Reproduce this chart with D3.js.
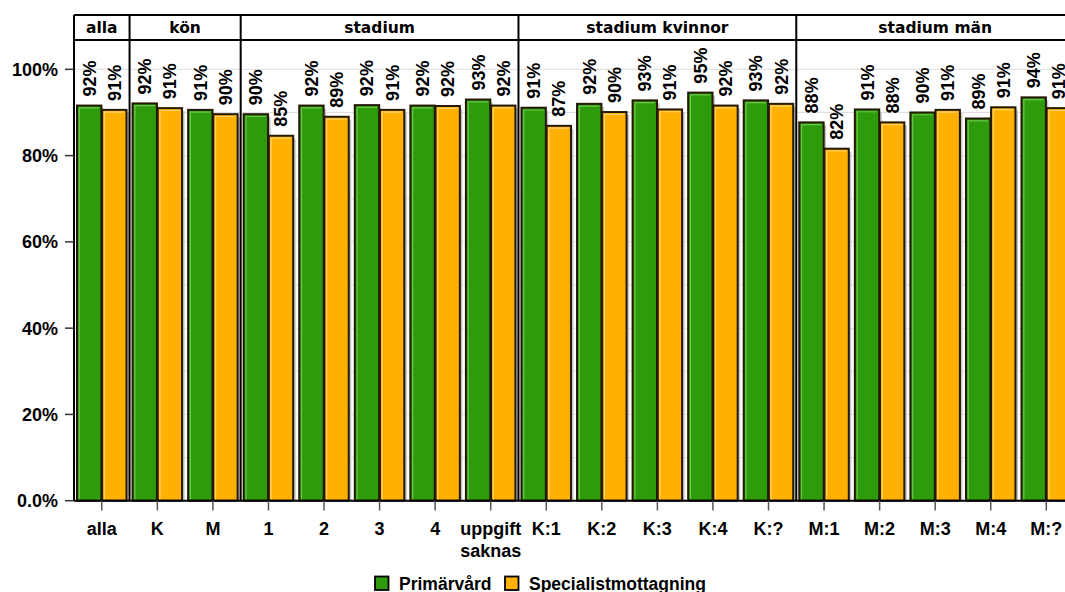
<!DOCTYPE html>
<html>
<head>
<meta charset="utf-8">
<script src="https://cdn.jsdelivr.net/npm/d3@7"></script>
<style>
  html, body { margin: 0; padding: 0; background: #fff; }
  svg { display: block; }
</style>
</head>
<body>
<svg id="chart" width="1065" height="592"></svg>
<script>
// ---------------- data ----------------
const categories = ["alla", "K", "M", "1", "2", "3", "4", "uppgift saknas",
  "K:1", "K:2", "K:3", "K:4", "K:?", "M:1", "M:2", "M:3", "M:4", "M:?"];
const panelNames = ["alla", "kön", "stadium", "stadium kvinnor", "stadium män"];
const panelSizes = [1, 2, 5, 5, 5];
const seriesNames = ["Primärvård", "Specialistmottagning"];
const primarvard = [91.6, 92.1, 90.6, 89.6, 91.6, 91.7, 91.6, 93.0,
  91.1, 92.0, 92.8, 94.6, 92.8, 87.7, 90.7, 90.0, 88.6, 93.5];
const specialist = [90.6, 91.0, 89.6, 84.6, 89.0, 90.6, 91.5, 91.6,
  86.9, 90.1, 90.7, 91.6, 92.0, 81.6, 87.7, 90.6, 91.2, 91.0];
const yTicks = [0, 20, 40, 60, 80, 100];
const yTickLabels = ["0.0%", "20%", "40%", "60%", "80%", "100%"];
const gridTicks = [10, 20, 30, 40, 50, 60, 70, 80, 90, 100];
const seriesColors = ["#2e9b0c", "#ffb000"];
const highlightColors = ["#6cc64a", "#ffd36a"];

// ---------------- layout ----------------
const svg = d3.select("#chart");
const left = 74, bandW = 55.56;
const stripTop = 15, stripBottom = 40, baseY = 500.7;
const FONT = "Arial, 'Liberation Sans', sans-serif";

const x = d3.scaleBand().domain(categories)
  .range([left, left + bandW * categories.length]).padding(0);
const xs = d3.scaleBand().domain(seriesNames).range([3, 52.5]).paddingInner(0.03);
const y = d3.scaleLinear().domain([0, 106.8]).range([baseY, stripBottom]);

const data = categories.map((c, i) => ({
  cat: c,
  vals: [primarvard[i], specialist[i]]
}));

// grid
svg.append("g").selectAll("line").data(gridTicks).join("line")
  .attr("x1", left).attr("x2", 1065)
  .attr("y1", d => y(d)).attr("y2", d => y(d))
  .attr("stroke", "#dedede").attr("stroke-width", 1);

// bars
const groups = svg.append("g").selectAll("g").data(data).join("g")
  .attr("transform", d => `translate(${x(d.cat)},0)`);

const barData = d => d.vals.map((v, j) => ({ v, j, s: seriesNames[j] }));

// shadows
groups.selectAll("rect.shadow").data(barData).join("rect")
  .attr("class", "shadow")
  .attr("x", d => xs(d.s) + 2.5)
  .attr("y", d => y(d.v) + 3)
  .attr("width", xs.bandwidth())
  .attr("height", d => baseY - y(d.v) - 3)
  .attr("fill", "#c4c4c4");

groups.selectAll("rect.bar").data(barData).join("rect")
  .attr("class", "bar")
  .attr("x", d => xs(d.s))
  .attr("y", d => y(d.v))
  .attr("width", xs.bandwidth())
  .attr("height", d => baseY - y(d.v))
  .attr("fill", d => seriesColors[d.j])
  .attr("stroke", "#241800").attr("stroke-width", 2);

// highlight lines
groups.selectAll("path.hl").data(barData).join("path")
  .attr("class", "hl")
  .attr("d", d => {
    const x0 = xs(d.s) + 2.3, x1 = xs(d.s) + xs.bandwidth() - 2.3;
    const y0 = y(d.v) + 2.3;
    return `M${x0},${baseY - 1.5}V${y0}H${x1}`;
  })
  .attr("fill", "none")
  .attr("stroke", d => highlightColors[d.j]).attr("stroke-width", 1.2);

// value labels
groups.selectAll("text.val").data(barData).join("text")
  .attr("class", "val")
  .attr("transform", d => `translate(${xs(d.s) + xs.bandwidth() / 2},${y(d.v) - 9}) rotate(-90)`)
  .attr("text-anchor", "start")
  .attr("dy", "0.36em")
  .attr("font-family", FONT)
  .attr("font-weight", "bold")
  .attr("font-size", 18)
  .attr("fill", "#000")
  .text(d => Math.round(d.v) + "%");

// panel borders
let starts = [], acc = 0;
panelSizes.forEach(n => { starts.push(acc); acc += n; });
const boundaries = starts.map(s => x(categories[s]));

const frame = svg.append("g");
frame.append("line").attr("x1", left).attr("x2", 1065)
  .attr("y1", stripTop).attr("y2", stripTop).attr("stroke", "#000").attr("stroke-width", 2);
frame.append("line").attr("x1", left).attr("x2", 1065)
  .attr("y1", stripBottom).attr("y2", stripBottom).attr("stroke", "#000").attr("stroke-width", 2);
frame.append("line").attr("x1", left).attr("x2", 1065)
  .attr("y1", baseY).attr("y2", baseY).attr("stroke", "#000").attr("stroke-width", 2);
frame.selectAll("line.sep").data(boundaries).join("line")
  .attr("class", "sep")
  .attr("x1", d => d).attr("x2", d => d)
  .attr("y1", stripTop).attr("y2", baseY)
  .attr("stroke", "#000").attr("stroke-width", 2);

// strip labels
frame.selectAll("text.strip").data(panelNames).join("text")
  .attr("class", "strip")
  .attr("x", (d, i) => x(categories[starts[i]]) + panelSizes[i] * bandW / 2)
  .attr("y", 33)
  .attr("text-anchor", "middle")
  .attr("font-family", "'DejaVu Sans', Verdana, sans-serif")
  .attr("font-weight", "bold")
  .attr("font-size", 15.5)
  .text(d => d);

// y axis
const yAxis = svg.append("g");
yAxis.selectAll("line").data(yTicks).join("line")
  .attr("x1", 65).attr("x2", left)
  .attr("y1", d => y(d)).attr("y2", d => y(d))
  .attr("stroke", "#333").attr("stroke-width", 1.5);
yAxis.selectAll("text").data(yTicks).join("text")
  .attr("x", 58).attr("y", d => y(d))
  .attr("dy", "0.36em")
  .attr("text-anchor", "end")
  .attr("font-family", FONT)
  .attr("font-weight", "bold")
  .attr("font-size", 18)
  .text((d, i) => yTickLabels[i]);

// x axis
const xAxis = svg.append("g");
xAxis.selectAll("line").data(categories).join("line")
  .attr("x1", d => x(d) + bandW / 2).attr("x2", d => x(d) + bandW / 2)
  .attr("y1", baseY).attr("y2", 510.5)
  .attr("stroke", "#555").attr("stroke-width", 1.5);
const xt = xAxis.selectAll("text").data(categories).join("text")
  .attr("x", d => x(d) + bandW / 2)
  .attr("y", 535)
  .attr("text-anchor", "middle")
  .attr("font-family", FONT)
  .attr("font-weight", "bold")
  .attr("font-size", 18);
xt.selectAll("tspan").data(d => d.split(" ").map(w => ({ w, c: d }))).join("tspan")
  .attr("x", d => x(d.c) + bandW / 2)
  .attr("dy", (d, i) => i === 0 ? 0 : 22)
  .text(d => d.w);

// legend
const legendX = [375, 505];
const lg = svg.append("g").selectAll("g").data(seriesNames).join("g")
  .attr("transform", (d, i) => `translate(${legendX[i]},0)`);
lg.append("rect").attr("x", 0).attr("y", 576.5).attr("width", 13.5).attr("height", 13.5)
  .attr("fill", (d, i) => seriesColors[i]).attr("stroke", "#000").attr("stroke-width", 1.8);
lg.append("text").attr("x", 24).attr("y", 589.5)
  .attr("font-family", FONT)
  .attr("font-weight", "bold")
  .attr("font-size", 17.5)
  .text(d => d);
</script>
</body>
</html>
